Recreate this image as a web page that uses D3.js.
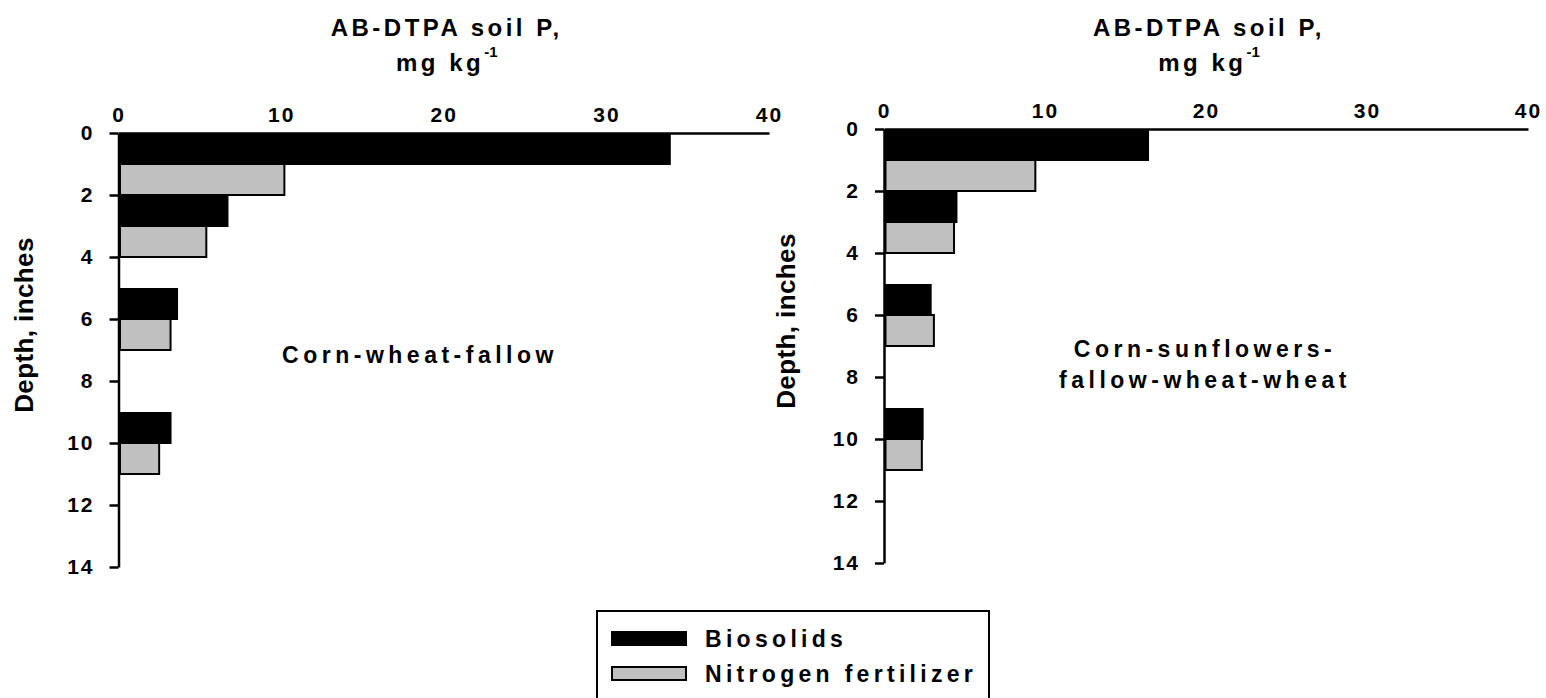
<!DOCTYPE html>
<html>
<head>
<meta charset="utf-8">
<script src="https://cdn.jsdelivr.net/npm/d3@7"></script>
<style>
  html, body { margin: 0; padding: 0; background: #fff; }
  svg { display: block; }
  text { font-family: "Liberation Sans", Arial, sans-serif; font-weight: bold; fill: #000; }
</style>
</head>
<body>
<svg id="chart" width="1546" height="698"></svg>
<script>
// ---- data ----
const layerTop = [0, 2, 5, 9];          // inches
const layerBottom = [2, 4, 7, 11];      // inches
const seriesNames = ["Biosolids", "Nitrogen fertilizer"];
const seriesColors = ["#000000", "#c0c0c0"];
const cwfBiosolids = [33.9, 6.7, 3.6, 3.2];
const cwfNitrogen = [10.2, 5.4, 3.2, 2.5];
const csfwwBiosolids = [16.4, 4.5, 2.9, 2.4];
const csfwwNitrogen = [9.4, 4.35, 3.1, 2.35];
const xTicks = [0, 10, 20, 30, 40];
const yTicks = [0, 2, 4, 6, 8, 10, 12, 14];
const panelLabels = [["Corn-wheat-fallow"], ["Corn-sunflowers-", "fallow-wheat-wheat"]];

const svg = d3.select("#chart");

const panels = [
  { x0: 118.5, x1: 769, y0: 133, y1: 567, series: [cwfBiosolids, cwfNitrogen],
    labelX: 420, labelY: [363], depthX: 33 },
  { x0: 884, x1: 1528, y0: 129, y1: 563, series: [csfwwBiosolids, csfwwNitrogen],
    labelX: 1205, labelY: [357, 388], depthX: 795 }
];

panels.forEach((p, pi) => {
  const x = d3.scaleLinear().domain([0, 40]).range([p.x0, p.x1]);
  const y = d3.scaleLinear().domain([0, 14]).range([p.y0, p.y1]);
  const g = svg.append("g");

  // bars
  p.series.forEach((vals, si) => {
    g.selectAll(null).data(vals).enter().append("rect")
      .attr("x", x(0) + 1.5)
      .attr("y", (d, i) => y(layerTop[i] + si * (layerBottom[i] - layerTop[i]) / 2) + (si === 0 ? 1 : 0))
      .attr("width", d => x(d) - x(0) - 1.5)
      .attr("height", (d, i) => y(layerTop[i] + (si + 1) * (layerBottom[i] - layerTop[i]) / 2) - y(layerTop[i] + si * (layerBottom[i] - layerTop[i]) / 2) - (si === 0 ? 1 : 0))
      .attr("fill", seriesColors[si])
      .attr("stroke", "#000")
      .attr("stroke-width", 2);
  });

  // top axis
  const xAxis = d3.axisTop(x).tickValues(xTicks).tickSize(0).tickPadding(11).tickFormat(d3.format("d"));
  const gx = g.append("g").attr("transform", `translate(0,${p.y0})`).call(xAxis);
  gx.select(".domain").attr("stroke", "#000").attr("stroke-width", 2.5);
  gx.selectAll("text").style("font-size", "21px").style("letter-spacing", "2px").attr("fill", "#000");

  // left axis
  const yAxis = d3.axisLeft(y).tickValues(yTicks).tickSize(9).tickPadding(15).tickSizeOuter(0).tickFormat(d3.format("d"));
  const gy = g.append("g").attr("transform", `translate(${p.x0},0)`).call(yAxis);
  gy.select(".domain").attr("stroke", "#000").attr("stroke-width", 2.5);
  gy.selectAll(".tick line").attr("stroke", "#000").attr("stroke-width", 2.5);
  gy.selectAll("text").style("font-size", "21px").style("letter-spacing", "2px").attr("fill", "#000");

  // title
  const cx = (p.x0 + p.x1) / 2 + 3;
  g.append("text").attr("x", cx).attr("y", 36).attr("text-anchor", "middle")
    .style("font-size", "24px").style("letter-spacing", "3.5px").text("AB-DTPA soil P,");
  const t2 = g.append("text").attr("x", cx).attr("y", 71).attr("text-anchor", "middle")
    .style("font-size", "24px").style("letter-spacing", "3.5px");
  t2.append("tspan").text("mg kg");
  t2.append("tspan").attr("dy", -14).style("font-size", "15px").style("letter-spacing", "0px").text("-1");

  // depth label
  g.append("text").attr("transform", `translate(${p.depthX},${(p.y0 + p.y1) / 2 - 25}) rotate(-90)`)
    .attr("text-anchor", "middle").style("font-size", "26px").style("letter-spacing", "0.4px")
    .text("Depth, inches");

  // rotation label
  panelLabels[pi].forEach((s, li) => {
    g.append("text").attr("x", p.labelX).attr("y", p.labelY[li]).attr("text-anchor", "middle")
      .style("font-size", "23px").style("letter-spacing", "4.5px").text(s);
  });
});

// legend
const lg = svg.append("g");
lg.append("rect").attr("x", 597).attr("y", 611).attr("width", 392).attr("height", 100)
  .attr("fill", "#fff").attr("stroke", "#000").attr("stroke-width", 2);
seriesNames.forEach((n, i) => {
  lg.append("rect").attr("x", 612).attr("y", 632 + i * 35).attr("width", 74).attr("height", 13)
    .attr("fill", seriesColors[i]).attr("stroke", "#000").attr("stroke-width", 2);
  lg.append("text").attr("x", 705).attr("y", 647 + i * 35)
    .style("font-size", "23px").style("letter-spacing", "4.3px").text(n);
});
</script>
</body>
</html>
